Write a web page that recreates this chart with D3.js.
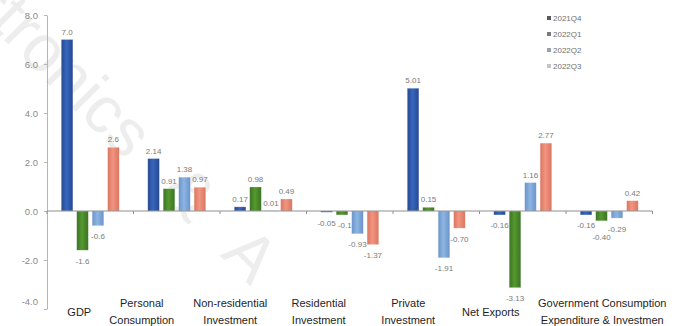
<!DOCTYPE html>
<html>
<head>
<meta charset="utf-8">
<script src="https://cdn.jsdelivr.net/npm/d3@7"></script>
<style>
  html, body { margin: 0; padding: 0; background: #fff; }
  svg { display: block; }
  text { font-family: "Liberation Sans", Arial, sans-serif; }
</style>
</head>
<body>
<svg id="chart" width="676" height="326"></svg>
<script>
// Contributions to US real GDP growth, percentage points (annualised)
const categories = [
  "GDP",
  "Personal Consumption",
  "Non-residential Investment",
  "Residential Investment",
  "Private Investment",
  "Net Exports",
  "Government Consumption Expenditure & Investmen"
];
const categoryLines = [
  ["GDP"],
  ["Personal", "Consumption"],
  ["Non-residential", "Investment"],
  ["Residential", "Investment"],
  ["Private", "Investment"],
  ["Net Exports"],
  ["Government Consumption", "Expenditure & Investmen"]
];
const series = ["2021Q4", "2022Q1", "2022Q2", "2022Q3"];
const q2021Q4 = [7.0, 2.14, 0.17, -0.05, 5.01, -0.16, -0.16];
const q2022Q1 = [-1.6, 0.91, 0.98, -0.16, 0.15, -3.13, -0.40];
const q2022Q2 = [-0.6, 1.38, 0.01, -0.93, -1.91, 1.16, -0.29];
const q2022Q3 = [2.6, 0.97, 0.49, -1.37, -0.70, 2.77, 0.42];
const valueLabels = [
  ["7.0", "2.14", "0.17", "-0.05", "5.01", "-0.16", "-0.16"],
  ["-1.6", "0.91", "0.98", "-0.16", "0.15", "-3.13", "-0.40"],
  ["-0.6", "1.38", "0.01", "-0.93", "-1.91", "1.16", "-0.29"],
  ["2.6", "0.97", "0.49", "-1.37", "-0.70", "2.77", "0.42"]
];
const yTicks = [-4, -2, 0, 2, 4, 6, 8];

const seriesValues = [q2021Q4, q2022Q1, q2022Q2, q2022Q3];

// ---- layout ----
const svg = d3.select("#chart");
const plotLeft = 47, plotRight = 652.5, plotTop = 15, plotBottom = 309;

// horizontal nudge of each category caption relative to its group centre
const captionShift = [-11, -35, -33, -31, -28, -32, -7];

const barColors = [
  { edge: "#27488f", mid: "#3766bf" },
  { edge: "#3c7424", mid: "#55982f" },
  { edge: "#6a93c9", mid: "#8db5e3" },
  { edge: "#d97560", mid: "#f29480" }
];
const legendColors = ["#5a5a5a", "#7a7a7a", "#9aa3aa", "#c4c4c4"];

// faint diagonal watermark
const wm = svg.append("text")
  .attr("font-family", "'Open Sans', 'DejaVu Sans', sans-serif")
  .attr("font-weight", 300)
  .attr("font-size", 66)
  .attr("word-spacing", 28)
  .attr("fill", "#ededed")
  .text("Electronics & A");
const skip = wm.node().getSubStringLength(0, 4);
wm.attr("transform", "translate(-12,24) rotate(45) translate(" + (-skip) + ",0)");

const y = d3.scaleLinear().domain([-4, 8]).range([plotBottom, plotTop]);
const x0 = d3.scaleBand().domain(categories).range([plotLeft, plotRight])
  .paddingInner(0.33).paddingOuter(0.165);
const x1 = d3.scaleBand().domain(series).range([0, x0.bandwidth()])
  .paddingInner(0.25);

// bar gradients
const defs = svg.append("defs");
barColors.forEach((c, i) => {
  const g = defs.append("linearGradient").attr("id", "g" + i)
    .attr("x1", "0%").attr("x2", "100%").attr("y1", "0%").attr("y2", "0%");
  g.append("stop").attr("offset", "0%").attr("stop-color", c.edge);
  g.append("stop").attr("offset", "45%").attr("stop-color", c.mid);
  g.append("stop").attr("offset", "100%").attr("stop-color", c.edge);
});

// y axis
const yAxis = svg.append("g").attr("transform", `translate(${plotLeft},0)`)
  .call(d3.axisLeft(y).tickValues(yTicks).tickFormat(d => d.toFixed(1))
    .tickSize(3).tickSizeOuter(0).tickPadding(6));
yAxis.select(".domain").attr("stroke", "#b5b5b5");
yAxis.selectAll(".tick line").attr("stroke", "#b5b5b5");
yAxis.selectAll(".tick text")
  .attr("font-family", "'Liberation Sans', Arial, sans-serif")
  .attr("font-size", 9.5).attr("fill", "#8a8a8a");
yAxis.selectAll(".tick").filter(d => d === -4).select("text").attr("dy", "-0.5em");

// value labels sit underneath the bars, so a neighbouring bar may cover one
const labelLayer = svg.append("g");
const barLayer = svg.append("g");

// offsets for labels that would otherwise collide with a neighbour
function labelNudge(si, ci) {
  if (si === 1 && ci === 6) return [0, 6];
  if (si === 1 && ci === 3) return [5, 0];
  return [0, 0];
}

categories.forEach((cat, ci) => {
  series.forEach((s, si) => {
    const v = seriesValues[si][ci];
    const x = x0(cat) + x1(s);
    const [dx, dy] = labelNudge(si, ci);
    barLayer.append("rect")
      .attr("x", x).attr("width", x1.bandwidth())
      .attr("y", y(Math.max(0, v)))
      .attr("height", Math.abs(y(v) - y(0)))
      .attr("fill", `url(#g${si})`)
      .attr("stroke", "rgba(255,255,255,0.35)").attr("stroke-width", 0.6);
    labelLayer.append("text")
      .attr("x", x + x1.bandwidth() / 2 + dx)
      .attr("y", (v >= 0 ? y(v) - 5 : y(v) + 13.5) + dy)
      .attr("text-anchor", "middle")
      .attr("font-size", 8).attr("fill", "#7a7a7a")
      .text(valueLabels[si][ci]);
  });
});

// x axis along zero
const xAxis = svg.append("g");
xAxis.append("line")
  .attr("x1", plotLeft).attr("x2", plotRight)
  .attr("y1", y(0)).attr("y2", y(0))
  .attr("stroke", "#8f8f8f").attr("stroke-width", 1);
const step = x0.step();
xAxis.selectAll(".tk").data(d3.range(categories.length + 1)).join("line")
  .attr("x1", i => plotLeft + i * step).attr("x2", i => plotLeft + i * step)
  .attr("y1", y(0)).attr("y2", y(0) + 3)
  .attr("stroke", "#8f8f8f");

// category captions
categories.forEach((cat, ci) => {
  const cx = x0(cat) + x0.bandwidth() / 2 + captionShift[ci];
  const lines = categoryLines[ci];
  const t = svg.append("text")
    .attr("text-anchor", "middle")
    .attr("font-size", 11).attr("fill", "#1e1e1e");
  lines.forEach((ln, li) => {
    t.append("tspan")
      .attr("x", cx)
      .attr("y", lines.length === 1 ? 316 : 307 + li * 17)
      .text(ln);
  });
});

// legend
const legend = svg.append("g").attr("transform", "translate(547,18)");
series.forEach((s, i) => {
  const row = legend.append("g").attr("transform", `translate(0,${i * 16})`);
  row.append("rect").attr("x", 0).attr("y", -2).attr("width", 4).attr("height", 4)
    .attr("fill", legendColors[i]);
  row.append("text").attr("x", 6).attr("y", 3)
    .attr("font-size", 8).attr("fill", "#707070").text(s);
});
</script>
</body>
</html>
